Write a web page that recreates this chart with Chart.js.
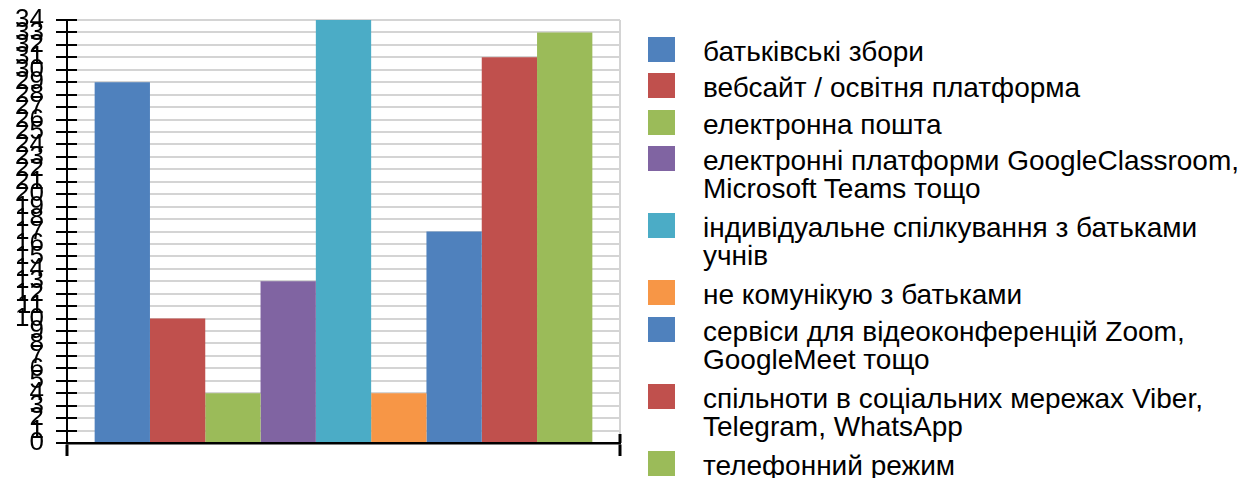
<!DOCTYPE html>
<html>
<head>
<meta charset="utf-8">
<script src="https://cdn.jsdelivr.net/npm/chart.js@4"></script>
<style>
    body { margin: 0; background: #fff; font-family: "Liberation Sans", Arial, sans-serif; }
    .wrap { position: relative; width: 1254px; height: 478px; }
    .chart-box { position: absolute; left: 0; top: 0; width: 640px; height: 478px; }
    .legend { position: absolute; left: 648px; top: 36.7px; }
    .legend-item { display: flex; align-items: flex-start; }
    .legend-box { width: 27px; height: 25px; flex: none; }
    .legend-text { margin-left: 28px; margin-top: 1px; font-size: 28px; line-height: 28px; color: #000; white-space: nowrap; }
</style>
</head>
<body>
<div class="wrap">
    <div class="chart-box"><canvas id="commChart" width="640" height="478"></canvas></div>
    <div class="legend" id="legend"></div>
</div>
<script>
// Дані діаграми
const categories = [''];
const seriesNames = [
    'батьківські збори',
    'вебсайт / освітня платформа',
    'електронна пошта',
    'електронні платформи GoogleClassroom,\nMicrosoft Teams тощо',
    'індивідуальне спілкування з батьками\nучнів',
    'не комунікую з батьками',
    'сервіси для відеоконференцій Zoom,\nGoogleMeet тощо',
    'спільноти в соціальних мережах Viber,\nTelegram, WhatsApp',
    'телефонний режим'
];
const seriesValues = [29, 10, 4, 13, 34, 4, 17, 31, 33];
const seriesColors = ['#4F81BD', '#C0504D', '#9BBB59', '#8064A2', '#4BACC6', '#F79646', '#4F81BD', '#C0504D', '#9BBB59'];
const yTicks = [0, 34, 1]; // мін, макс, крок

window.onload = function () {
    // легенда в HTML, бо підписи у два рядки
    const legend = document.getElementById('legend');
    seriesNames.forEach((name, i) => {
        const lines = name.split('\n');
        const item = document.createElement('div');
        item.className = 'legend-item';
        item.style.marginBottom = lines.length > 1 ? '10px' : '7.5px';
        const box = document.createElement('div');
        box.className = 'legend-box';
        box.style.background = seriesColors[i];
        const txt = document.createElement('div');
        txt.className = 'legend-text';
        txt.innerHTML = lines.join('<br>');
        item.appendChild(box);
        item.appendChild(txt);
        legend.appendChild(item);
    });

    // хрестоподібні риски на осі Y та правий штрих осі X
    const crossTicks = {
        id: 'crossTicks',
        afterDraw(chart) {
            const ctx = chart.ctx;
            const y = chart.scales.y;
            const x = chart.scales.x;
            ctx.save();
            ctx.strokeStyle = '#000';
            ctx.lineWidth = 2;
            ctx.beginPath();
            for (let v = yTicks[0]; v <= yTicks[1]; v += yTicks[2]) {
                const py = Math.round(y.getPixelForValue(v));
                ctx.moveTo(x.left, py);
                ctx.lineTo(x.left + 10, py);
            }
            ctx.stroke();
            ctx.lineWidth = 3;
            ctx.beginPath();
            ctx.moveTo(x.right, y.bottom - 9);
            ctx.lineTo(x.right, y.bottom);
            ctx.stroke();
            ctx.restore();
        }
    };

    new Chart(document.getElementById('commChart').getContext('2d'), {
        type: 'bar',
        data: {
            labels: categories,
            datasets: seriesNames.map((name, i) => ({
                label: name,
                data: [seriesValues[i]],
                backgroundColor: seriesColors[i],
                borderWidth: 0,
                categoryPercentage: 0.9,
                barPercentage: 1.0
            }))
        },
        options: {
            responsive: false,
            animation: false,
            layout: { padding: { top: 20, right: 20, bottom: 22, left: 0 } },
            plugins: {
                legend: { display: false },
                tooltip: { enabled: false }
            },
            scales: {
                x: {
                    ticks: { display: false },
                    grid: {
                        color: (c) => c.index === 0 ? '#000' : '#d4d4d4',
                        lineWidth: 2,
                        tickColor: '#000',
                        tickLength: 13,
                        tickWidth: 3
                    },
                    border: { color: '#000', width: 2.5 }
                },
                y: {
                    min: yTicks[0],
                    max: yTicks[1],
                    afterFit(scale) {
                        scale.width = 67;
                        scale.paddingTop = 0;
                        scale.paddingBottom = 0;
                    },
                    ticks: {
                        stepSize: yTicks[2],
                        autoSkip: false,
                        color: '#000',
                        padding: 12,
                        font: { family: 'Liberation Sans', size: 26 }
                    },
                    grid: {
                        color: '#d4d4d4',
                        lineWidth: 2,
                        tickColor: '#000',
                        tickLength: 11,
                        tickWidth: 2
                    },
                    border: { color: '#000', width: 2 }
                }
            }
        },
        plugins: [crossTicks]
    });
};
</script>
</body>
</html>
